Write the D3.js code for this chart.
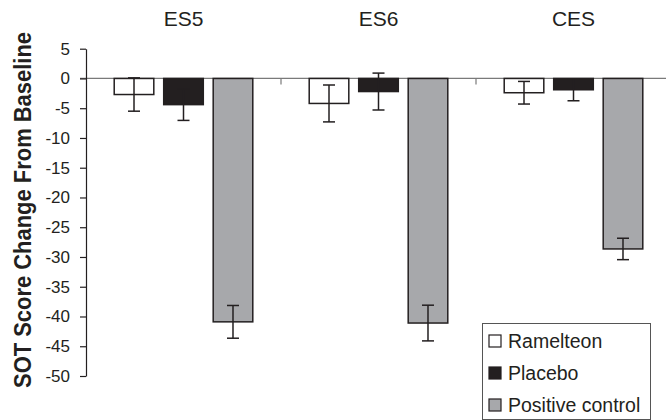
<!DOCTYPE html>
<html>
<head>
<meta charset="utf-8">
<script src="https://cdn.jsdelivr.net/npm/d3@7"></script>
<style>
  html, body { margin: 0; padding: 0; background: #fff; }
  svg { display: block; font-family: "Liberation Sans", Arial, sans-serif; }
</style>
</head>
<body>
<svg id="chart" width="666" height="420"></svg>
<script>
const groups = ["ES5", "ES6", "CES"];
const series = ["Ramelteon", "Placebo", "Positive control"];
const ramelteon = [-2.7, -4.2, -2.4];
const placebo = [-4.4, -2.2, -1.9];
const positiveControl = [-40.9, -41.1, -28.65];
const ramelteonSE = [2.8, 3.1, 1.9];
const placeboSE = [2.65, 3.1, 1.85];
const positiveControlSE = [2.75, 3.0, 1.8];
const yTicks = [5, 0, -5, -10, -15, -20, -25, -30, -35, -40, -45, -50];
const yTitle = "SOT Score Change From Baseline";

const seriesValues = [ramelteon, placebo, positiveControl];
const seriesSE = [ramelteonSE, placeboSE, positiveControlSE];
const fills = ["#ffffff", "#231f20", "#a7a8ab"];
const ink = "#231f20";

const data = [];
groups.forEach((g, gi) => {
  series.forEach((s, si) => {
    data.push({ group: g, series: s, value: seriesValues[si][gi], se: seriesSE[si][gi], fill: fills[si] });
  });
});

const svg = d3.select("#chart");

const y = d3.scaleLinear().domain([-50, 5]).range([376, 48.7]);
const x0 = d3.scaleBand().domain(groups).range([86, 671]).padding(0);
const x1 = d3.scaleBand().domain(series).range([0, x0.bandwidth()])
  .paddingInner(0.2).paddingOuter(0.57);

// zero line
svg.append("line")
  .attr("x1", 80).attr("x2", 666)
  .attr("y1", y(0)).attr("y2", y(0))
  .attr("stroke", "#7a7a7a").attr("stroke-width", 1.2);

// category separator ticks
svg.selectAll(".sep").data(groups.slice(1)).enter().append("line")
  .attr("x1", d => x0(d)).attr("x2", d => x0(d))
  .attr("y1", y(0)).attr("y2", y(0) + 6)
  .attr("stroke", "#7a7a7a").attr("stroke-width", 1.2);

// y axis
const yAxis = d3.axisLeft(y).tickValues(yTicks).tickSize(6).tickSizeOuter(0)
  .tickPadding(10).tickFormat(d => String(d));
const gy = svg.append("g").attr("transform", "translate(86,0)").call(yAxis);
gy.select(".domain").attr("stroke", ink).attr("stroke-width", 1.2);
gy.selectAll(".tick line").attr("stroke", ink).attr("stroke-width", 1.2);
gy.selectAll(".tick text").attr("fill", ink)
  .style("font-size", "17px").style("font-family", "'Liberation Sans', Arial, sans-serif");

// y title
svg.append("text")
  .attr("transform", `translate(31,${(32 + 388) / 2}) rotate(-90)`)
  .attr("text-anchor", "middle")
  .attr("fill", ink)
  .attr("textLength", 356)
  .attr("lengthAdjust", "spacingAndGlyphs")
  .style("font-size", "24px").style("font-weight", "bold")
  .text(yTitle);

// group titles
svg.selectAll(".gt").data(groups).enter().append("text")
  .attr("x", d => x0(d) + x0.bandwidth() / 2)
  .attr("y", 26)
  .attr("text-anchor", "middle")
  .attr("fill", ink)
  .style("font-size", "21px")
  .text(d => d);

// bars
svg.selectAll(".bar").data(data).enter().append("rect")
  .attr("x", d => x0(d.group) + x1(d.series))
  .attr("width", x1.bandwidth())
  .attr("y", d => y(Math.max(0, d.value)))
  .attr("height", d => Math.abs(y(d.value) - y(0)))
  .attr("fill", d => d.fill)
  .attr("stroke", ink).attr("stroke-width", 1.5);

// error bars
const eb = svg.selectAll(".eb").data(data).enter().append("g")
  .attr("stroke", ink).attr("stroke-width", 1.5);
const cx = d => x0(d.group) + x1(d.series) + x1.bandwidth() / 2;
eb.append("line")
  .attr("x1", cx).attr("x2", cx)
  .attr("y1", d => y(d.value + d.se)).attr("y2", d => y(d.value - d.se));
eb.append("line")
  .attr("x1", d => cx(d) - 6).attr("x2", d => cx(d) + 6)
  .attr("y1", d => y(d.value + d.se)).attr("y2", d => y(d.value + d.se));
eb.append("line")
  .attr("x1", d => cx(d) - 6).attr("x2", d => cx(d) + 6)
  .attr("y1", d => y(d.value - d.se)).attr("y2", d => y(d.value - d.se));

// legend
const lg = svg.append("g");
lg.append("rect")
  .attr("x", 482.5).attr("y", 323.5).attr("width", 168).attr("height", 96)
  .attr("fill", "#fff").attr("stroke", "#555").attr("stroke-width", 1);
series.forEach((s, i) => {
  const cy = 341 + i * 32;
  lg.append("rect")
    .attr("x", 489).attr("y", cy - 6).attr("width", 12).attr("height", 12)
    .attr("fill", fills[i]).attr("stroke", ink).attr("stroke-width", 1.2);
  lg.append("text")
    .attr("x", 508).attr("y", cy + 7)
    .attr("fill", ink)
    .style("font-size", "19.5px")
    .text(s);
});
</script>
</body>
</html>
